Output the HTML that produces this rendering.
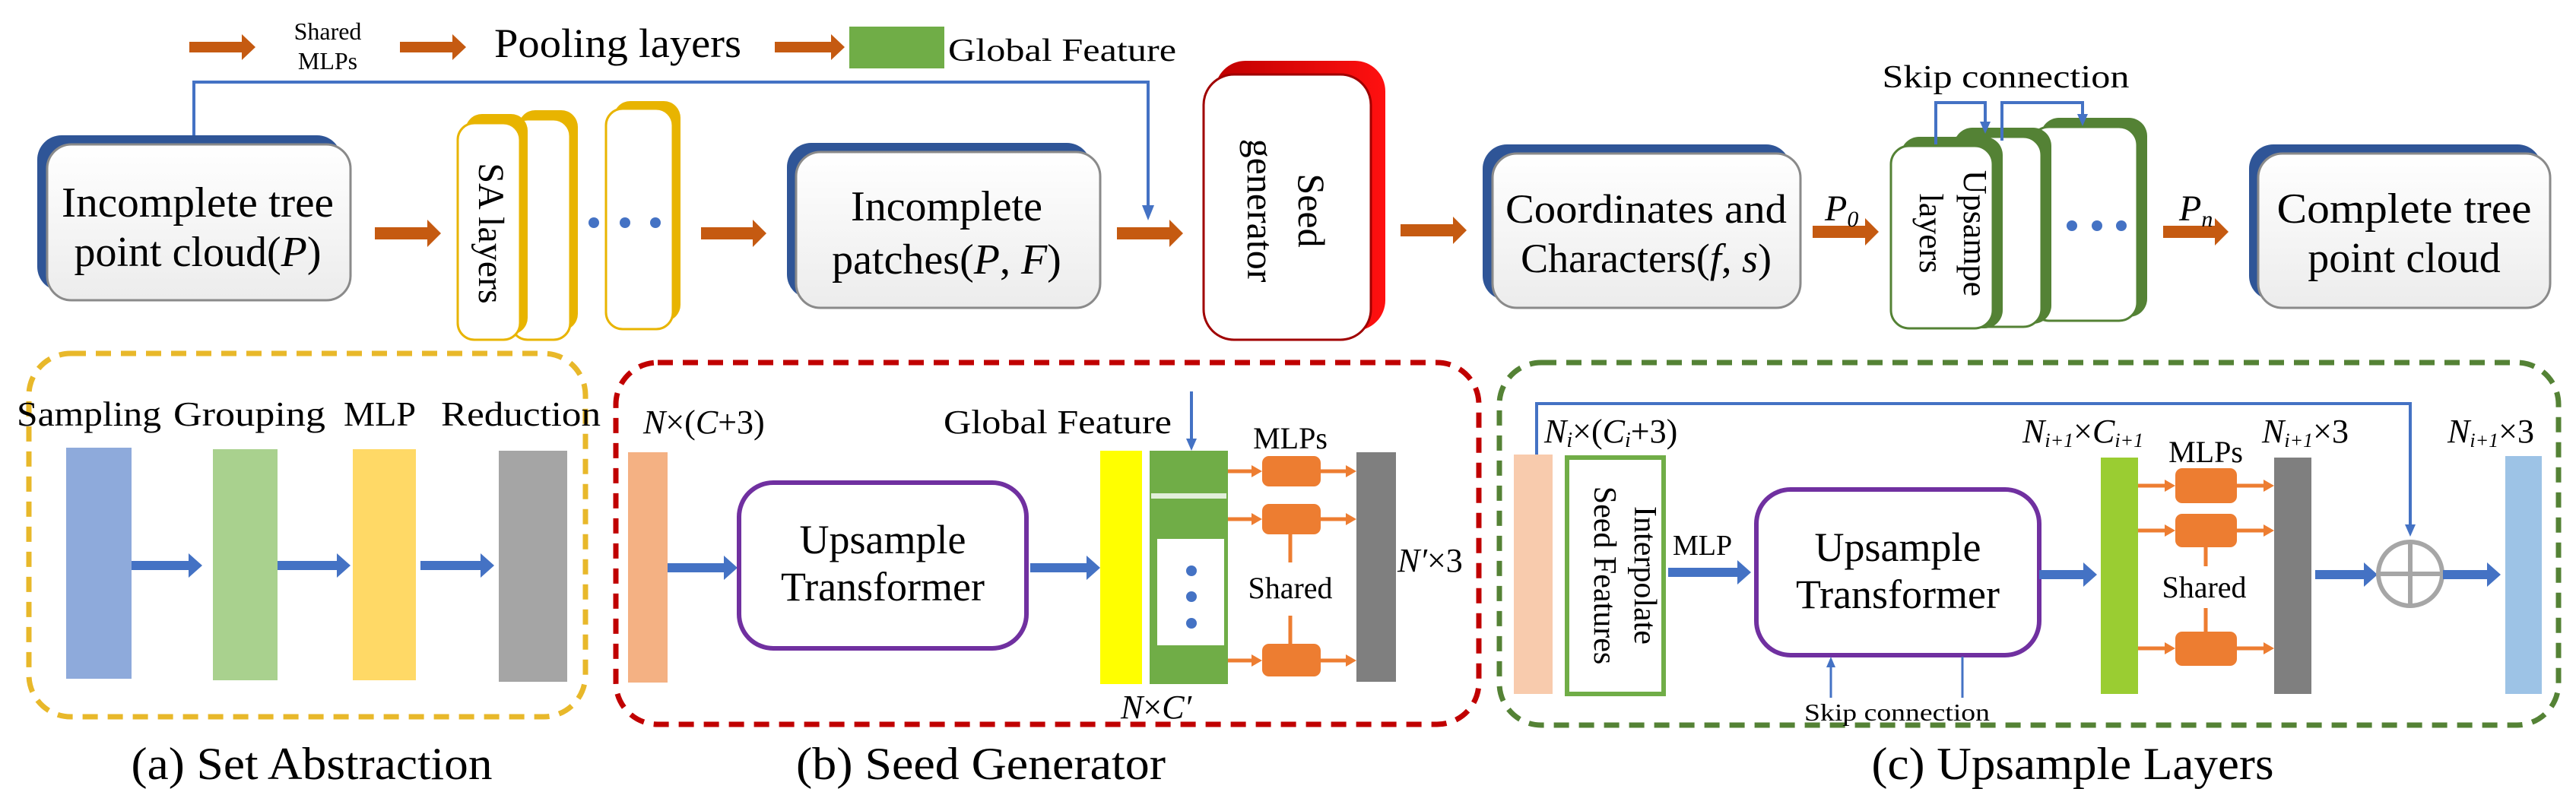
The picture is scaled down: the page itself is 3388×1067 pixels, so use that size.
<!DOCTYPE html>
<html><head><meta charset="utf-8"><style>
html,body{margin:0;padding:0;background:#fff;}
svg{display:block;}
text{font-family:"Liberation Serif",serif;fill:#000;}
</style></head><body>
<svg width="3388" height="1067" viewBox="0 0 3388 1067" xmlns="http://www.w3.org/2000/svg">
<defs>
<linearGradient id="bx" x1="0" y1="0" x2="0" y2="1"><stop offset="0" stop-color="#ffffff"/><stop offset="1" stop-color="#ececec"/></linearGradient>
<linearGradient id="rd" x1="0" y1="0" x2="1" y2="0"><stop offset="0" stop-color="#c00000"/><stop offset="1" stop-color="#ff1010"/></linearGradient>
</defs>

<!-- top legend -->
<g fill="#c55a11">
<polygon points="249,55 318,55 318,45 336,62 318,79 318,69 249,69"/>
<polygon points="526,55 595,55 595,45 613,62 595,79 595,69 526,69"/>
<polygon points="1019,55 1093,55 1093,45 1111,62 1093,79 1093,69 1019,69"/>
</g>
<text x="431" y="52" font-size="32" text-anchor="middle">Shared</text>
<text x="431" y="91" font-size="32" text-anchor="middle">MLPs</text>
<text x="650" y="75" font-size="54" textLength="325" lengthAdjust="spacingAndGlyphs">Pooling layers</text>
<rect x="1117" y="35" width="125" height="55" fill="#70ad47"/>
<text x="1247" y="80" font-size="42" textLength="300" lengthAdjust="spacingAndGlyphs">Global Feature</text>

<!-- blue connector top -->
<polyline points="255,180 255,108 1510,108 1510,275" fill="none" stroke="#4472c4" stroke-width="4"/>
<polygon points="1502,270 1518,270 1510,290" fill="#4472c4"/>

<g>
<rect x="49" y="178" width="400" height="205" rx="32" fill="#2f5597"/>
<rect x="62" y="190" width="399" height="205" rx="32" fill="url(#bx)" stroke="#8a8a8a" stroke-width="3"/>
<text x="260" y="285" font-size="56" text-anchor="middle" textLength="358" lengthAdjust="spacingAndGlyphs">Incomplete tree</text>
<text x="260" y="350" font-size="56" text-anchor="middle">point cloud(<tspan font-style="italic">P</tspan>)</text>

<rect x="1035" y="188" width="400" height="205" rx="32" fill="#2f5597"/>
<rect x="1047" y="200" width="400" height="205" rx="32" fill="url(#bx)" stroke="#8a8a8a" stroke-width="3"/>
<text x="1245" y="290" font-size="56" text-anchor="middle">Incomplete</text>
<text x="1245" y="360" font-size="56" text-anchor="middle">patches(<tspan font-style="italic">P</tspan>, <tspan font-style="italic">F</tspan>)</text>

<rect x="1950" y="190" width="405" height="205" rx="32" fill="#2f5597"/>
<rect x="1963" y="202" width="405" height="203" rx="32" fill="url(#bx)" stroke="#8a8a8a" stroke-width="3"/>
<text x="2165" y="293" font-size="54" text-anchor="middle" textLength="370" lengthAdjust="spacingAndGlyphs">Coordinates and</text>
<text x="2165" y="358" font-size="54" text-anchor="middle">Characters(<tspan font-style="italic">f</tspan>, <tspan font-style="italic">s</tspan>)</text>

<rect x="2958" y="190" width="385" height="205" rx="32" fill="#2f5597"/>
<rect x="2970" y="202" width="384" height="203" rx="32" fill="url(#bx)" stroke="#8a8a8a" stroke-width="3"/>
<text x="3162" y="293" font-size="56" text-anchor="middle" textLength="335" lengthAdjust="spacingAndGlyphs">Complete tree</text>
<text x="3162" y="358" font-size="56" text-anchor="middle">point cloud</text>
</g>

<!-- orange arrows main row -->
<g fill="#c55a11">
<polygon points="493,299 562,299 562,289 580,307 562,325 562,315 493,315"/>
<polygon points="922,299 990,299 990,289 1008,307 990,325 990,315 922,315"/>
<polygon points="1469,299 1538,299 1538,289 1556,307 1538,325 1538,315 1469,315"/>
<polygon points="1842,295 1911,295 1911,285 1929,303 1911,321 1911,311 1842,311"/>
<polygon points="2384,297 2453,297 2453,287 2471,305 2453,323 2453,313 2384,313"/>
<polygon points="2845,297 2913,297 2913,287 2931,305 2913,323 2913,313 2845,313"/>
</g>
<text x="2400" y="290" font-size="48" font-style="italic">P<tspan font-size="30" dy="8">0</tspan></text>
<text x="2866" y="290" font-size="48" font-style="italic">P<tspan font-size="30" dy="8">n</tspan></text>

<!-- SA layer cards -->
<g>
<rect x="807" y="133" width="88" height="290" rx="22" fill="#e8b400"/>
<rect x="797" y="143" width="88" height="290" rx="22" fill="#fff" stroke="#e8b400" stroke-width="3"/>
<rect x="682" y="145" width="78" height="290" rx="22" fill="#e8b400"/>
<rect x="672" y="157" width="78" height="290" rx="22" fill="#fff" stroke="#e8b400" stroke-width="3"/>
<rect x="612" y="150" width="82" height="290" rx="22" fill="#e8b400"/>
<rect x="602" y="162" width="82" height="285" rx="22" fill="#fff" stroke="#e8b400" stroke-width="3"/>
<text transform="translate(630,307) rotate(90)" font-size="48" text-anchor="middle">SA layers</text>
<circle cx="781" cy="293" r="7" fill="#4472c4"/><circle cx="822" cy="293" r="7" fill="#4472c4"/><circle cx="862" cy="293" r="7" fill="#4472c4"/>
</g>

<!-- seed generator -->
<rect x="1598" y="80" width="224" height="355" rx="40" fill="url(#rd)"/>
<rect x="1583" y="98" width="220" height="349" rx="40" fill="#fff" stroke="#a00000" stroke-width="3"/>
<text transform="translate(1708,277) rotate(90)" font-size="50" text-anchor="middle" font-family="Liberation Sans, sans-serif">Seed</text>
<text transform="translate(1641,277) rotate(90)" font-size="50" text-anchor="middle" font-family="Liberation Sans, sans-serif">generator</text>

<!-- upsample cards -->
<g>
<text x="2638" y="115" font-size="42" text-anchor="middle" textLength="325" lengthAdjust="spacingAndGlyphs">Skip connection</text>
<rect x="2684" y="155" width="140" height="262" rx="24" fill="#548235"/>
<rect x="2671" y="167" width="140" height="255" rx="24" fill="#fff" stroke="#548235" stroke-width="3"/>
<rect x="2570" y="168" width="128" height="258" rx="24" fill="#548235"/>
<rect x="2557" y="180" width="128" height="250" rx="24" fill="#fff" stroke="#548235" stroke-width="3"/>
<rect x="2500" y="180" width="134" height="252" rx="24" fill="#548235"/>
<rect x="2487" y="192" width="134" height="240" rx="24" fill="#fff" stroke="#548235" stroke-width="3"/>
<text transform="translate(2583,307) rotate(90)" font-size="44" text-anchor="middle">Upsampe</text>
<text transform="translate(2525,307) rotate(90)" font-size="44" text-anchor="middle">layers</text>
<polyline points="2546,190 2546,135 2611,135 2611,165" fill="none" stroke="#4472c4" stroke-width="4"/>
<polygon points="2604,160 2618,160 2611,176" fill="#4472c4"/>
<polyline points="2633,185 2633,135 2739,135 2739,155" fill="none" stroke="#4472c4" stroke-width="4"/>
<polygon points="2732,150 2746,150 2739,166" fill="#4472c4"/>
<circle cx="2725" cy="297" r="7" fill="#4472c4"/><circle cx="2758" cy="297" r="7" fill="#4472c4"/><circle cx="2790" cy="297" r="7" fill="#4472c4"/>
</g>

<!-- dashed containers -->
<rect x="38" y="465" width="732" height="478" rx="55" fill="none" stroke="#e8b82a" stroke-width="7" stroke-dasharray="20 13"/>
<rect x="810" y="477" width="1135" height="476" rx="55" fill="none" stroke="#c00000" stroke-width="7" stroke-dasharray="20 13"/>
<rect x="1972" y="477" width="1393" height="477" rx="55" fill="none" stroke="#548235" stroke-width="7" stroke-dasharray="20 13"/>

<!-- (a) -->
<text x="22" y="560" font-size="46" textLength="190" lengthAdjust="spacingAndGlyphs">Sampling</text>
<text x="228" y="560" font-size="46" textLength="200" lengthAdjust="spacingAndGlyphs">Grouping</text>
<text x="452" y="560" font-size="46" textLength="95" lengthAdjust="spacingAndGlyphs">MLP</text>
<text x="580" y="560" font-size="46" textLength="210" lengthAdjust="spacingAndGlyphs">Reduction</text>
<rect x="87" y="589" width="86" height="304" fill="#8eaadb"/>
<rect x="280" y="591" width="85" height="304" fill="#a9d18e"/>
<rect x="464" y="591" width="83" height="304" fill="#ffd966"/>
<rect x="656" y="593" width="90" height="304" fill="#a5a5a5"/>
<g fill="#4472c4">
<polygon points="173,738 248,738 248,728 266,744 248,760 248,750 173,750"/>
<polygon points="365,738 443,738 443,728 461,744 443,760 443,750 365,750"/>
<polygon points="553,738 632,738 632,728 650,744 632,760 632,750 553,750"/>
</g>

<!-- (b) -->
<text x="846" y="570" font-size="44" font-style="italic">N<tspan font-style="normal">×(</tspan>C<tspan font-style="normal">+3)</tspan></text>
<rect x="826" y="595" width="52" height="303" fill="#f4b183"/>
<polygon points="878,741 952,741 952,731 970,747 952,763 952,753 878,753" fill="#4472c4"/>
<rect x="972" y="635" width="378" height="218" rx="45" fill="#fff" stroke="#7030a0" stroke-width="6"/>
<text x="1161" y="728" font-size="54" text-anchor="middle">Upsample</text>
<text x="1161" y="790" font-size="54" text-anchor="middle">Transformer</text>
<polygon points="1355,741 1429,741 1429,731 1447,747 1429,763 1429,753 1355,753" fill="#4472c4"/>
<rect x="1447" y="593" width="55" height="307" fill="#ffff00"/>
<rect x="1512" y="593" width="103" height="307" fill="#70ad47"/>
<rect x="1514" y="649" width="99" height="7" fill="#e2efda"/>
<rect x="1522" y="709" width="88" height="140" fill="#fff"/>
<circle cx="1567" cy="751" r="7" fill="#4472c4"/><circle cx="1567" cy="785" r="7" fill="#4472c4"/><circle cx="1567" cy="820" r="7" fill="#4472c4"/>
<text x="1241" y="570" font-size="44" textLength="300" lengthAdjust="spacingAndGlyphs">Global Feature</text>
<line x1="1567" y1="515" x2="1567" y2="580" stroke="#4472c4" stroke-width="4"/>
<polygon points="1560,577 1574,577 1567,593" fill="#4472c4"/>
<text x="1474" y="945" font-size="44" font-style="italic">N<tspan font-style="normal">×</tspan>C′</text>
<text x="1697" y="590" font-size="40" text-anchor="middle">MLPs</text>
<g fill="#ed7d31">
<rect x="1660" y="600" width="77" height="40" rx="9"/>
<rect x="1660" y="663" width="77" height="40" rx="9"/>
<rect x="1660" y="847" width="77" height="43" rx="9"/>
</g>
<g stroke="#ed7d31" stroke-width="5" fill="#ed7d31">
<line x1="1615" y1="620" x2="1648" y2="620"/><line x1="1737" y1="620" x2="1772" y2="620"/>
<line x1="1615" y1="683" x2="1648" y2="683"/><line x1="1737" y1="683" x2="1772" y2="683"/>
<line x1="1615" y1="869" x2="1648" y2="869"/><line x1="1737" y1="869" x2="1772" y2="869"/>
<line x1="1697" y1="703" x2="1697" y2="740"/><line x1="1697" y1="810" x2="1697" y2="847"/>
</g>
<g fill="#ed7d31">
<polygon points="1646,612 1660,620 1646,628"/><polygon points="1770,612 1784,620 1770,628"/>
<polygon points="1646,675 1660,683 1646,691"/><polygon points="1770,675 1784,683 1770,691"/>
<polygon points="1646,861 1660,869 1646,877"/><polygon points="1770,861 1784,869 1770,877"/>
</g>
<text x="1697" y="787" font-size="40" text-anchor="middle">Shared</text>
<rect x="1784" y="595" width="52" height="302" fill="#7f7f7f"/>
<text x="1838" y="752" font-size="44" font-style="italic">N′<tspan font-style="normal">×3</tspan></text>

<!-- (c) -->
<polyline points="2021,598 2021,531 3170,531 3170,695" fill="none" stroke="#4472c4" stroke-width="4"/>
<polygon points="3163,690 3177,690 3170,706" fill="#4472c4"/>
<text x="2031" y="582" font-size="44" font-style="italic">N<tspan font-size="28" dy="6">i</tspan><tspan font-style="normal" dy="-6">×(</tspan>C<tspan font-size="28" dy="6">i</tspan><tspan font-style="normal" dy="-6">+3)</tspan></text>
<rect x="1991" y="598" width="51" height="315" fill="#f8cbad"/>
<rect x="2061" y="602" width="127" height="311" fill="#fff" stroke="#70ad47" stroke-width="6"/>
<text transform="translate(2150,757) rotate(90)" font-size="42" text-anchor="middle" font-family="Liberation Sans, sans-serif">Interpolate</text>
<text transform="translate(2097,757) rotate(90)" font-size="42" text-anchor="middle" font-family="Liberation Sans, sans-serif">Seed Features</text>
<text x="2200" y="730" font-size="38">MLP</text>
<polygon points="2194,747 2285,747 2285,737 2303,753 2285,769 2285,759 2194,759" fill="#4472c4"/>
<rect x="2310" y="644" width="372" height="218" rx="45" fill="#fff" stroke="#7030a0" stroke-width="6"/>
<text x="2496" y="738" font-size="54" text-anchor="middle">Upsample</text>
<text x="2496" y="800" font-size="54" text-anchor="middle">Transformer</text>
<line x1="2408" y1="918" x2="2408" y2="875" stroke="#4472c4" stroke-width="3"/>
<polygon points="2402,878 2414,878 2408,864" fill="#4472c4"/>
<line x1="2581" y1="864" x2="2581" y2="918" stroke="#4472c4" stroke-width="3"/>
<text x="2495" y="948" font-size="32" text-anchor="middle" textLength="244" lengthAdjust="spacingAndGlyphs">Skip connection</text>
<polygon points="2682,750 2740,750 2740,740 2758,756 2740,772 2740,762 2682,762" fill="#4472c4"/>
<rect x="2763" y="602" width="49" height="311" fill="#9acd32"/>
<text x="2660" y="582" font-size="44" font-style="italic">N<tspan font-size="26" dy="6">i+1</tspan><tspan font-style="normal" dy="-6">×</tspan>C<tspan font-size="26" dy="6">i+1</tspan></text>
<text x="2901" y="608" font-size="40" text-anchor="middle">MLPs</text>
<g fill="#ed7d31">
<rect x="2861" y="616" width="81" height="46" rx="9"/>
<rect x="2861" y="676" width="81" height="44" rx="9"/>
<rect x="2861" y="831" width="81" height="45" rx="9"/>
</g>
<g stroke="#ed7d31" stroke-width="5">
<line x1="2812" y1="639" x2="2848" y2="639"/><line x1="2942" y1="639" x2="2978" y2="639"/>
<line x1="2812" y1="698" x2="2848" y2="698"/><line x1="2942" y1="698" x2="2978" y2="698"/>
<line x1="2812" y1="853" x2="2848" y2="853"/><line x1="2942" y1="853" x2="2978" y2="853"/>
<line x1="2901" y1="720" x2="2901" y2="745"/><line x1="2901" y1="800" x2="2901" y2="831"/>
</g>
<g fill="#ed7d31">
<polygon points="2847,631 2861,639 2847,647"/><polygon points="2977,631 2991,639 2977,647"/>
<polygon points="2847,690 2861,698 2847,706"/><polygon points="2977,690 2991,698 2977,706"/>
<polygon points="2847,845 2861,853 2847,861"/><polygon points="2977,845 2991,853 2977,861"/>
</g>
<text x="2899" y="786" font-size="40" text-anchor="middle">Shared</text>
<rect x="2991" y="602" width="49" height="311" fill="#7f7f7f"/>
<text x="2975" y="582" font-size="44" font-style="italic">N<tspan font-size="26" dy="6">i+1</tspan><tspan font-style="normal" dy="-6">×3</tspan></text>
<polygon points="3045,750 3109,750 3109,740 3127,756 3109,772 3109,762 3045,762" fill="#4472c4"/>
<circle cx="3170" cy="755" r="42" fill="none" stroke="#a6a6a6" stroke-width="6"/>
<line x1="3128" y1="755" x2="3212" y2="755" stroke="#a6a6a6" stroke-width="6"/>
<line x1="3170" y1="713" x2="3170" y2="797" stroke="#a6a6a6" stroke-width="6"/>
<polygon points="3213,750 3271,750 3271,740 3289,756 3271,772 3271,762 3213,762" fill="#4472c4"/>
<rect x="3295" y="600" width="48" height="313" fill="#9dc3e6"/>
<text x="3219" y="582" font-size="44" font-style="italic">N<tspan font-size="26" dy="6">i+1</tspan><tspan font-style="normal" dy="-6">×3</tspan></text>

<!-- captions -->
<text x="410" y="1025" font-size="60" text-anchor="middle" textLength="475" lengthAdjust="spacingAndGlyphs">(a) Set Abstraction</text>
<text x="1290" y="1025" font-size="60" text-anchor="middle" textLength="486" lengthAdjust="spacingAndGlyphs">(b) Seed Generator</text>
<text x="2726" y="1025" font-size="60" text-anchor="middle" textLength="529" lengthAdjust="spacingAndGlyphs">(c) Upsample Layers</text>
</svg>
</body></html>
